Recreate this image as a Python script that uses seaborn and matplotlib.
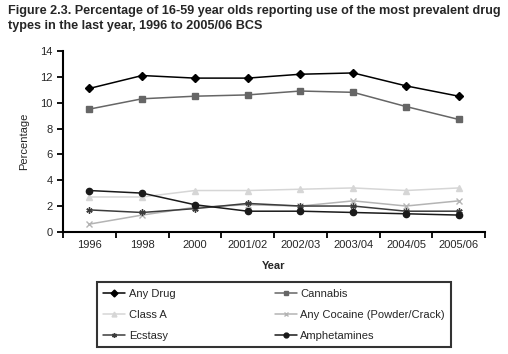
import pandas as pd
import matplotlib.pyplot as plt
import seaborn as sns

years = ['1996', '1998', '2000', '2001/02', '2002/03', '2003/04', '2004/05', '2005/06']
any_drug = [11.1, 12.1, 11.9, 11.9, 12.2, 12.3, 11.3, 10.5]
cannabis = [9.5, 10.3, 10.5, 10.6, 10.9, 10.8, 9.7, 8.7]
class_a = [2.7, 2.7, 3.2, 3.2, 3.3, 3.4, 3.2, 3.4]
cocaine = [0.6, 1.3, 1.9, 2.1, 2.0, 2.4, 2.0, 2.4]
ecstasy = [1.7, 1.5, 1.8, 2.2, 2.0, 2.0, 1.6, 1.6]
amphetamines = [3.2, 3.0, 2.1, 1.6, 1.6, 1.5, 1.4, 1.3]

series = {
    'Any Drug': any_drug,
    'Cannabis': cannabis,
    'Class A': class_a,
    'Any Cocaine (Powder/Crack)': cocaine,
    'Ecstasy': ecstasy,
    'Amphetamines': amphetamines,
}
colors = {
    'Any Drug': '#000000',
    'Cannabis': '#666666',
    'Class A': '#d6d6d6',
    'Any Cocaine (Powder/Crack)': '#b4b4b4',
    'Ecstasy': '#3c3c3c',
    'Amphetamines': '#1a1a1a',
}
markers = {
    'Any Drug': 'D',
    'Cannabis': 's',
    'Class A': '^',
    'Any Cocaine (Powder/Crack)': 'x',
    'Ecstasy': (6, 2, 0),
    'Amphetamines': 'o',
}

sns.set_style('ticks')
plt.rcParams['font.family'] = ['Liberation Sans', 'DejaVu Sans']

fig = plt.figure(figsize=(5.08, 3.54), dpi=100)
ax = fig.add_axes([0.124, 0.345, 0.831, 0.511])

for name, vals in series.items():
    df = pd.DataFrame({'Year': years, 'Percentage': vals})
    c = colors[name]
    sns.lineplot(data=df, x='Year', y='Percentage', color=c, marker=markers[name],
                 markersize=4.5 if markers[name] != 'D' else 4, markeredgewidth=1.0,
                 markeredgecolor=c, markerfacecolor=c, linewidth=1.1, label=name, ax=ax)

ax.set_xlim(-0.5, 7.5)
ax.set_ylim(0, 14)
ax.set_yticks(range(0, 15, 2))
ax.set_xticks(range(len(years)))
ax.set_xticklabels(years)
ax.set_xticks([i - 0.5 for i in range(len(years) + 1)], minor=True)
ax.tick_params(axis='x', which='major', length=0, labelsize=8, pad=6)
ax.tick_params(axis='x', which='minor', length=4, width=1.3, color='black')
ax.tick_params(axis='y', length=4, width=1.3, labelsize=8, color='black')
for s in ['top', 'right']:
    ax.spines[s].set_visible(False)
for s in ['left', 'bottom']:
    ax.spines[s].set_linewidth(1.5)
    ax.spines[s].set_color('black')
ax.set_xlabel('Year', fontsize=8, fontweight='bold', labelpad=8)
ax.set_ylabel('Percentage', fontsize=8, labelpad=8)

handles, labels = ax.get_legend_handles_labels()
ax.get_legend().remove()
# legend fills row by row in the original, matplotlib fills by column
order = [0, 2, 4, 1, 3, 5]
leg = fig.legend([handles[i] for i in order], [labels[i] for i in order],
                 ncol=2, loc='lower left',
                 bbox_to_anchor=(0.191, 0.02, 0.697, 0.183), mode='expand',
                 fontsize=8, frameon=True, fancybox=False, edgecolor='black',
                 handlelength=2.0, handletextpad=0.3, borderpad=0.55,
                 labelspacing=1.0, borderaxespad=0)
leg.get_frame().set_linewidth(1.5)
for h in leg.legend_handles:
    h.set_markersize(3.5)

fig.text(0.016, 0.985,
         'Figure 2.3. Percentage of 16-59 year olds reporting use of the most prevalent drug\n'
         'types in the last year, 1996 to 2005/06 BCS',
         ha='left', va='top', fontsize=9.1, fontweight='bold', linespacing=1.25)

fig.savefig('out.png', dpi=100)
